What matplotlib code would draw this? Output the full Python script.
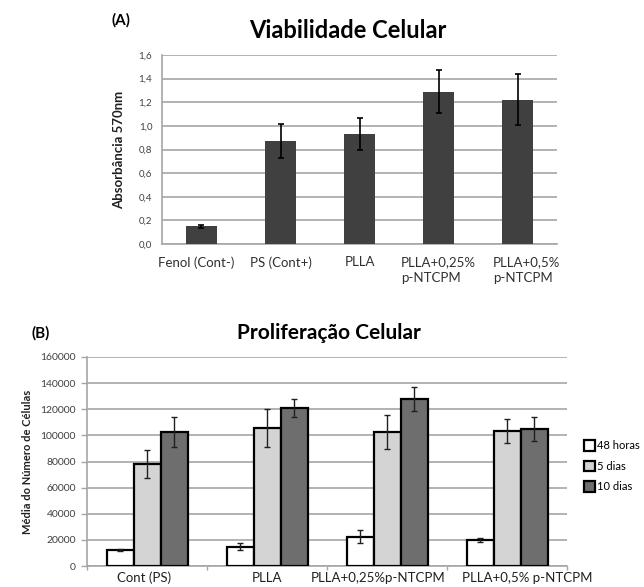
import matplotlib
matplotlib.use("Agg")
import matplotlib.pyplot as plt
import matplotlib.transforms as mtransforms
from matplotlib.patches import Patch
import numpy as np

plt.rcParams["font.family"] = ["Lato", "DejaVu Sans"]

# (A) viabilidade
via_labels = ["Fenol (Cont-)", "PS (Cont+)", "PLLA", "PLLA+0,25%\np-NTCPM", "PLLA+0,5%\np-NTCPM"]
via_values = [0.15, 0.87, 0.93, 1.29, 1.22]
via_err = [0.013, 0.145, 0.135, 0.18, 0.215]
via_ticks = [0.0, 0.2, 0.4, 0.6, 0.8, 1.0, 1.2, 1.4, 1.6]

# (B) proliferacao
pro_labels = ["Cont (PS)", "PLLA", "PLLA+0,25%p-NTCPM", "PLLA+0,5% p-NTCPM"]
series_names = ["48 horas", "5 dias", "10 dias"]
h48 = [12300, 14900, 22500, 19900]
h48_err = [500, 2800, 4800, 1300]
d5 = [78100, 105900, 102300, 103600]
d5_err = [10800, 14600, 13000, 9200]
d10 = [102800, 121200, 127900, 104900]
d10_err = [11400, 6800, 9000, 9500]
pro_ticks = [0, 20000, 40000, 60000, 80000, 100000, 120000, 140000, 160000]

W, H = 644, 587
fig = plt.figure(figsize=(W / 100, H / 100), dpi=100)
grid_c = "#a6a6a6"
tick_c = "#404040"


def nudge(labels, shifts):
    # shift tick labels sideways by a few pixels
    for lab, dx in zip(labels, shifts):
        lab.set_transform(lab.get_transform() + mtransforms.ScaledTranslation(dx / 100, 0, fig.dpi_scale_trans))


# ---- panel A ----
ax1 = fig.add_axes([162 / W, 1 - 244 / H, 395 / W, 189 / H])
x1 = np.arange(len(via_labels))
ax1.bar(x1, via_values, width=0.38, color="#404040", zorder=3)
ax1.errorbar(x1, via_values, yerr=via_err, fmt="none", ecolor="black",
             elinewidth=1.2, capsize=2.5, capthick=1.2, zorder=4)
ax1.set_xlim(-0.5, len(via_labels) - 0.5)
ax1.set_ylim(0, 1.6)
ax1.set_yticks(via_ticks)
ax1.set_yticklabels([f"{t:.1f}".replace(".", ",") for t in via_ticks], fontsize=7, color=tick_c)
ax1.set_xticks(x1)
ax1.set_xticklabels(via_labels, fontsize=9.5, color="#303030", multialignment="left",
                    linespacing=1.3)
ax1.tick_params(axis="x", length=0, pad=9)
ax1.tick_params(axis="y", length=0, pad=7)
ax1.yaxis.grid(True, color=grid_c, linewidth=1.2, zorder=0)
for s in ["top", "right"]:
    ax1.spines[s].set_visible(False)
for s in ["left", "bottom"]:
    ax1.spines[s].set_color(grid_c)
    ax1.spines[s].set_linewidth(1.2)
ax1.set_ylabel("Absorbância 570nm", fontsize=9.5, fontweight="bold", color="#202020", labelpad=10)
nudge(ax1.get_xticklabels(), [-5, 0, 0, 0, 9])

fig.text(121 / W, 1 - 20 / H, "(A)", fontsize=11, fontweight="bold", ha="center", va="center")
fig.text(348 / W, 1 - 30 / H, "Viabilidade Celular", fontsize=17, fontweight="bold",
         ha="center", va="center")

# ---- panel B ----
ax2 = fig.add_axes([87 / W, 1 - 566 / H, 480 / W, 209 / H])
x2 = np.arange(len(pro_labels))
bw = 0.225
colors = ["white", "#d4d4d4", "#6e6e6e"]
for k, (vals, errs) in enumerate([(h48, h48_err), (d5, d5_err), (d10, d10_err)]):
    pos = x2 + (k - 1) * bw
    ax2.bar(pos, vals, width=bw, color=colors[k], edgecolor="black", linewidth=1.6, zorder=3)
    ax2.errorbar(pos, vals, yerr=errs, fmt="none", ecolor="#202020",
                 elinewidth=1.0, capsize=2, capthick=1.0, zorder=4)
ax2.set_xlim(-0.5, len(pro_labels) - 0.5)
ax2.set_ylim(0, 160000)
ax2.set_yticks(pro_ticks)
ax2.set_yticklabels([str(t) for t in pro_ticks], fontsize=7.5, color=tick_c)
ax2.set_xticks(x2)
ax2.set_xticklabels(pro_labels, fontsize=9.5, color="#202020")
ax2.set_xticks(np.arange(-0.5, len(pro_labels)), minor=True)
ax2.tick_params(axis="x", which="major", length=0, pad=4)
ax2.tick_params(axis="x", which="minor", length=3, color=grid_c, width=1)
ax2.tick_params(axis="y", length=4, color=grid_c, width=1, pad=4)
ax2.yaxis.grid(True, color=grid_c, linewidth=1.2, zorder=0)
for s in ["top", "right"]:
    ax2.spines[s].set_visible(False)
for s in ["left", "bottom"]:
    ax2.spines[s].set_color(grid_c)
    ax2.spines[s].set_linewidth(1.2)
ax2.set_ylabel("Média do Número de Células", fontsize=8, fontweight="bold", color="#202020", labelpad=5)
nudge(ax2.get_xticklabels(), [-3, 0, -9, 20])

handles = [Patch(facecolor=c, edgecolor="black", linewidth=1.6) for c in colors]
ax2.legend(handles, series_names, loc="upper left", bbox_to_anchor=(584 / W, 1 - 440 / H),
           bbox_transform=fig.transFigure, frameon=False, fontsize=8, borderpad=0,
           borderaxespad=0, handlelength=1.0, handleheight=1.1, handletextpad=0.2,
           labelspacing=0.85)

fig.text(41 / W, 1 - 333 / H, "(B)", fontsize=11, fontweight="bold", ha="center", va="center")
fig.text(329 / W, 1 - 333 / H, "Proliferação Celular", fontsize=15, fontweight="bold",
         ha="center", va="center")

fig.savefig("out.png", dpi=100)
